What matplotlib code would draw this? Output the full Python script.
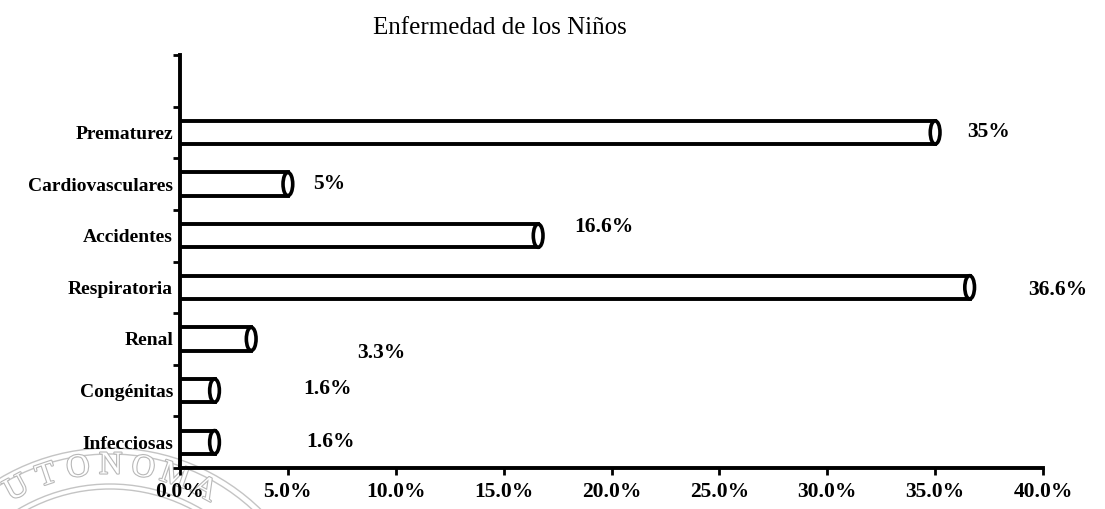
import matplotlib
matplotlib.use("Agg")
import matplotlib.pyplot as plt
import matplotlib.patheffects as pe
from matplotlib.patches import Ellipse, Circle
import numpy as np

categories = ["Prematurez", "Cardiovasculares", "Accidentes", "Respiratoria",
              "Renal", "Congénitas", "Infecciosas"]
values = [35.0, 5.0, 16.6, 36.6, 3.3, 1.6, 1.6]
value_labels = ["35%", "5%", "16.6%", "36.6%", "3.3%", "1.6%", "1.6%"]
xticks = [0, 5, 10, 15, 20, 25, 30, 35, 40]
xtick_labels = ["0.0%", "5.0%", "10.0%", "15.0%", "20.0%", "25.0%", "30.0%", "35.0%", "40.0%"]
title = "Enfermedad de los Niños"
watermark_letters = ["U", "T", "O", "N", "O", "M", "A"]
# label offsets in points (dx, dy) from bar end
label_offsets = [(23, 0), (18, 0), (26, 6), (42, -2), (76, -10), (64, 1), (66, 0)]

plt.rcParams['font.family'] = ['Liberation Serif', 'DejaVu Serif']

fig = plt.figure(figsize=(11.05, 5.09), dpi=100)

# faint seal watermark (figure pixel space)
wax = fig.add_axes([0, 0, 1, 1], zorder=0)
wax.set_xlim(0, 1105)
wax.set_ylim(509, 0)
wax.axis("off")
cx, cy = 110, 664
for r in (216, 210, 180, 175):
    wax.add_patch(Circle((cx, cy), r, fill=False, edgecolor="#c4c4c4", linewidth=1.0))
r_txt = 198
angs = 242 + 9.4 * np.arange(len(watermark_letters))
for ch, a in zip(watermark_letters, angs):
    t = np.deg2rad(a)
    x = cx + r_txt * np.cos(t)
    y = cy + r_txt * np.sin(t)
    wax.text(x, y, ch, fontsize=23, color="white", ha="center", va="center",
             rotation=-(a - 270),
             path_effects=[pe.withStroke(linewidth=1.6, foreground="#b8b8b8")])

ax = fig.add_axes([180/1105, 1-468/509, (1043-180)/1105, (468-55)/509], zorder=2)
ax.patch.set_alpha(0)

n = len(categories)
ypos = np.arange(n)[::-1]  # Prematurez at top
bh = 0.45
ax.barh(ypos, values, height=bh, color="white", edgecolor="black", linewidth=2.8, zorder=3)
for y, v in zip(ypos, values):
    e = Ellipse((v, y), width=0.45, height=bh, facecolor="white", edgecolor="black",
                linewidth=2.6, zorder=4)
    ax.add_patch(e)

for y, v, lab, (dx, dy) in zip(ypos, values, value_labels, label_offsets):
    ax.annotate(lab, xy=(v, y), xytext=(dx, dy), textcoords="offset points",
                ha="left", va="center", fontsize=15.5, fontweight="bold")

ax.set_xlim(0, 40)
ax.set_ylim(-0.5, n + 0.5)
ax.set_xticks(xticks)
ax.set_xticklabels(xtick_labels, fontsize=15.5, fontweight="bold")
ax.set_yticks(np.arange(-0.5, n + 1, 1.0))
ax.set_yticklabels([])
ax.set_yticks(ypos, minor=True)
ax.set_yticklabels(categories, minor=True, fontsize=14, fontweight="bold")
ax.tick_params(axis="y", which="minor", length=0, pad=5)
ax.tick_params(axis="y", which="major", length=5, width=2, direction="out")
ax.tick_params(axis="x", which="major", length=5, width=2, direction="out", pad=5)

for s in ["top", "right"]:
    ax.spines[s].set_visible(False)
for s in ["left", "bottom"]:
    ax.spines[s].set_linewidth(2.8)

fig.text(500/1105, 1-28/509, title, ha="center", va="center", fontsize=18)

fig.savefig("out.png", dpi=100)
